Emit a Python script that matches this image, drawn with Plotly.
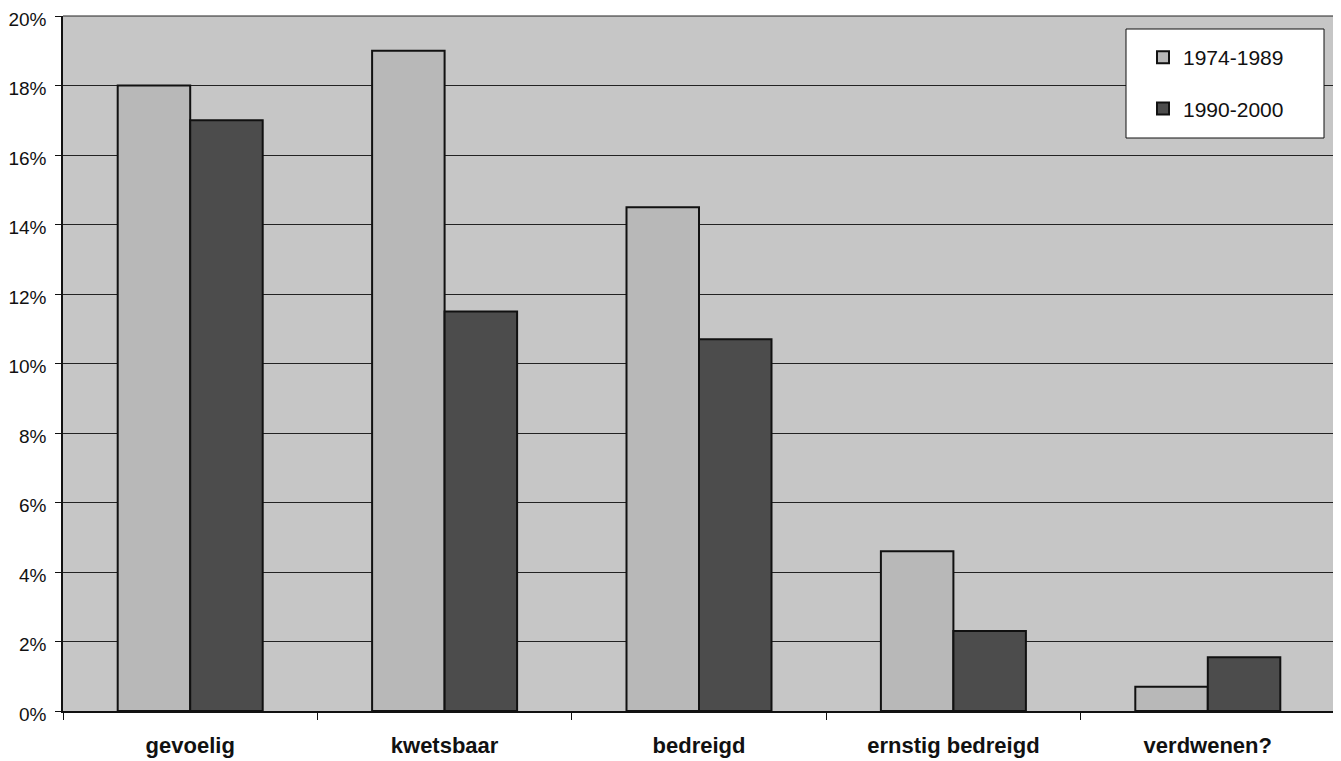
import plotly.graph_objects as go

categories = ["gevoelig", "kwetsbaar", "bedreigd", "ernstig bedreigd", "verdwenen?"]
series_1974_1989 = [18.0, 19.0, 14.5, 4.6, 0.7]
series_1990_2000 = [17.0, 11.5, 10.7, 2.3, 1.55]
y_ticks = [0, 2, 4, 6, 8, 10, 12, 14, 16, 18, 20]
y_tick_labels = [f"{v}%" for v in y_ticks]

# page body has an 8px margin; target plot area in window pixels
OFF = 8
L, R, T, B = 63, 1335, 16, 711
W, H = R - L, B - T
FIG_W, FIG_H = 1341 - OFF, 761 - OFF

fig = go.Figure()
fig.add_trace(go.Bar(
    name="1974-1989", x=categories, y=series_1974_1989, legendgroup="g0",
    marker=dict(color="#b8b8b8", line=dict(color="#111111", width=2)),
))
fig.add_trace(go.Bar(
    name="1990-2000", x=categories, y=series_1990_2000, legendgroup="g1",
    marker=dict(color="#4c4c4c", line=dict(color="#111111", width=2)),
))

fig.update_layout(
    width=FIG_W, height=FIG_H,
    margin=dict(l=L - OFF, r=FIG_W - (R - OFF), t=T - OFF, b=FIG_H - (B - OFF), autoexpand=False),
    paper_bgcolor="white",
    plot_bgcolor="#c6c6c6",
    barmode="group",
    bargap=0.43,
    bargroupgap=0,
    font=dict(family="Arial, Liberation Sans, sans-serif", size=19, color="#111111"),
    showlegend=True,
    legend=dict(
        x=(1143 - L) / W, y=1 - (37 - T) / H,
        xanchor="left", yanchor="top",
        bgcolor="rgba(0,0,0,0)", borderwidth=0,
        font=dict(size=21, color="#111111"),
        tracegroupgap=21, itemwidth=30,
    ),
    shapes=[
        dict(
            type="rect", xref="paper", yref="paper", layer="above",
            x0=(1126 - L) / W, x1=(1324 - L) / W,
            y0=1 - (138 - T) / H, y1=1 - (29 - T) / H,
            fillcolor="white", line=dict(color="#111111", width=1),
        ),
        dict(type="line", xref="paper", yref="paper", x0=1, x1=1, y0=0, y1=1,
             line=dict(color="#555555", width=1), layer="below"),
        dict(type="line", xref="paper", yref="paper", x0=0, x1=1, y0=1, y1=1,
             line=dict(color="#222222", width=1), layer="below"),
    ],
)

fig.update_xaxes(
    type="category", automargin=False,
    showline=True, linecolor="#111111", linewidth=1.5,
    ticks="outside", tickson="boundaries", ticklen=7, tickcolor="#111111",
    ticklabelstandoff=14,
    tickfont=dict(family="Arial, Liberation Sans, sans-serif", size=22, color="#111111", weight="bold"),
    mirror=False, showgrid=False,
)
fig.update_yaxes(
    range=[0, 20], automargin=False,
    tickvals=y_ticks, ticktext=y_tick_labels,
    showline=True, linecolor="#111111", linewidth=1.5,
    ticks="outside", ticklen=6, tickcolor="#111111",
    ticklabelstandoff=5, ticklabeloverflow="allow", ticklabelshift=3,
    showgrid=True, gridcolor="#222222", gridwidth=1,
    zeroline=False,
    tickfont=dict(size=19, color="#111111"),
)

fig.write_html("out.html")
